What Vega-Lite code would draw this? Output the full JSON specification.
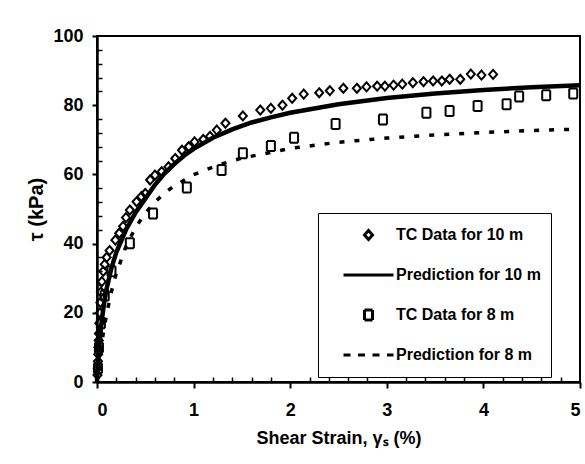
{
  "$schema": "https://vega.github.io/schema/vega-lite/v6.json",
  "width": 483,
  "height": 346,
  "autosize": {"type": "none"},
  "padding": {"left": 97, "top": 36, "right": 5, "bottom": 82},
  "background": "white",
  "config": {
    "view": {"stroke": "black", "strokeWidth": 2},
    "font": "Liberation Sans",
    "axis": {
      "labelFont": "Liberation Sans", "labelFontWeight": "bold", "labelFontSize": 18, "labelColor": "black",
      "titleFont": "Liberation Sans", "titleFontWeight": "bold", "titleColor": "black",
      "domainColor": "black", "domainWidth": 2.5, "tickColor": "black", "tickWidth": 2, "grid": false
    },
    "legend": {
      "orient": "none", "legendX": 221, "legendY": 177,
      "labelFont": "Liberation Sans", "labelFontWeight": "bold", "labelFontSize": 16, "labelColor": "black",
      "strokeColor": "black", "fillColor": "white", "padding": 10,
      "rowPadding": 16, "clipHeight": 24, "symbolOffset": 14, "labelOffset": 1,
      "symbolSize": 2500, "symbolStrokeWidth": 3, "symbolStrokeColor": "black", "symbolFillColor": "transparent",
      "symbolOpacity": 1, "title": null
    }
  },
  "data": {"values": [
    {"series": "TC Data for 10 m", "strain": 0.005, "stress": 2},
    {"series": "TC Data for 10 m", "strain": 0.008, "stress": 4},
    {"series": "TC Data for 10 m", "strain": 0.01, "stress": 6},
    {"series": "TC Data for 10 m", "strain": 0.012, "stress": 8},
    {"series": "TC Data for 10 m", "strain": 0.015, "stress": 10},
    {"series": "TC Data for 10 m", "strain": 0.018, "stress": 12},
    {"series": "TC Data for 10 m", "strain": 0.02, "stress": 14},
    {"series": "TC Data for 10 m", "strain": 0.025, "stress": 17},
    {"series": "TC Data for 10 m", "strain": 0.03, "stress": 20},
    {"series": "TC Data for 10 m", "strain": 0.035, "stress": 23},
    {"series": "TC Data for 10 m", "strain": 0.04, "stress": 26},
    {"series": "TC Data for 10 m", "strain": 0.05, "stress": 29},
    {"series": "TC Data for 10 m", "strain": 0.065, "stress": 32},
    {"series": "TC Data for 10 m", "strain": 0.08, "stress": 34},
    {"series": "TC Data for 10 m", "strain": 0.1, "stress": 36},
    {"series": "TC Data for 10 m", "strain": 0.13, "stress": 38},
    {"series": "TC Data for 10 m", "strain": 0.19, "stress": 41},
    {"series": "TC Data for 10 m", "strain": 0.23, "stress": 43},
    {"series": "TC Data for 10 m", "strain": 0.27, "stress": 45},
    {"series": "TC Data for 10 m", "strain": 0.3, "stress": 47.5},
    {"series": "TC Data for 10 m", "strain": 0.34, "stress": 49.7},
    {"series": "TC Data for 10 m", "strain": 0.41, "stress": 52.1},
    {"series": "TC Data for 10 m", "strain": 0.46, "stress": 53.6},
    {"series": "TC Data for 10 m", "strain": 0.5, "stress": 54.5},
    {"series": "TC Data for 10 m", "strain": 0.55, "stress": 58.4},
    {"series": "TC Data for 10 m", "strain": 0.6, "stress": 59.8},
    {"series": "TC Data for 10 m", "strain": 0.67, "stress": 60.8},
    {"series": "TC Data for 10 m", "strain": 0.74, "stress": 62.2},
    {"series": "TC Data for 10 m", "strain": 0.81, "stress": 64.6},
    {"series": "TC Data for 10 m", "strain": 0.88, "stress": 67},
    {"series": "TC Data for 10 m", "strain": 0.95, "stress": 68},
    {"series": "TC Data for 10 m", "strain": 1.01, "stress": 69.4},
    {"series": "TC Data for 10 m", "strain": 1.1, "stress": 70.1},
    {"series": "TC Data for 10 m", "strain": 1.17, "stress": 71},
    {"series": "TC Data for 10 m", "strain": 1.24, "stress": 72.8},
    {"series": "TC Data for 10 m", "strain": 1.33, "stress": 74.8},
    {"series": "TC Data for 10 m", "strain": 1.51, "stress": 76.9},
    {"series": "TC Data for 10 m", "strain": 1.69, "stress": 78.6},
    {"series": "TC Data for 10 m", "strain": 1.8, "stress": 79.1},
    {"series": "TC Data for 10 m", "strain": 1.92, "stress": 80},
    {"series": "TC Data for 10 m", "strain": 2.02, "stress": 82},
    {"series": "TC Data for 10 m", "strain": 2.14, "stress": 83.2},
    {"series": "TC Data for 10 m", "strain": 2.3, "stress": 83.6},
    {"series": "TC Data for 10 m", "strain": 2.41, "stress": 84.2},
    {"series": "TC Data for 10 m", "strain": 2.55, "stress": 84.9},
    {"series": "TC Data for 10 m", "strain": 2.69, "stress": 84.9},
    {"series": "TC Data for 10 m", "strain": 2.79, "stress": 85.3},
    {"series": "TC Data for 10 m", "strain": 2.9, "stress": 85.5},
    {"series": "TC Data for 10 m", "strain": 2.98, "stress": 85.5},
    {"series": "TC Data for 10 m", "strain": 3.07, "stress": 85.8},
    {"series": "TC Data for 10 m", "strain": 3.16, "stress": 86.1},
    {"series": "TC Data for 10 m", "strain": 3.27, "stress": 86.5},
    {"series": "TC Data for 10 m", "strain": 3.38, "stress": 86.8},
    {"series": "TC Data for 10 m", "strain": 3.48, "stress": 87},
    {"series": "TC Data for 10 m", "strain": 3.57, "stress": 87},
    {"series": "TC Data for 10 m", "strain": 3.65, "stress": 87.5},
    {"series": "TC Data for 10 m", "strain": 3.76, "stress": 87.5},
    {"series": "TC Data for 10 m", "strain": 3.87, "stress": 89},
    {"series": "TC Data for 10 m", "strain": 3.98, "stress": 88.7},
    {"series": "TC Data for 10 m", "strain": 4.1, "stress": 88.9},
    {"series": "TC Data for 8 m", "strain": 0.01, "stress": 4},
    {"series": "TC Data for 8 m", "strain": 0.02, "stress": 10},
    {"series": "TC Data for 8 m", "strain": 0.04, "stress": 17},
    {"series": "TC Data for 8 m", "strain": 0.08, "stress": 25},
    {"series": "TC Data for 8 m", "strain": 0.15, "stress": 32},
    {"series": "TC Data for 8 m", "strain": 0.34, "stress": 40.1},
    {"series": "TC Data for 8 m", "strain": 0.58, "stress": 48.7},
    {"series": "TC Data for 8 m", "strain": 0.93, "stress": 56.2},
    {"series": "TC Data for 8 m", "strain": 1.29, "stress": 61.3},
    {"series": "TC Data for 8 m", "strain": 1.51, "stress": 66.1},
    {"series": "TC Data for 8 m", "strain": 1.8, "stress": 68.2},
    {"series": "TC Data for 8 m", "strain": 2.04, "stress": 70.6},
    {"series": "TC Data for 8 m", "strain": 2.47, "stress": 74.6},
    {"series": "TC Data for 8 m", "strain": 2.96, "stress": 75.9},
    {"series": "TC Data for 8 m", "strain": 3.41, "stress": 77.8},
    {"series": "TC Data for 8 m", "strain": 3.65, "stress": 78.3},
    {"series": "TC Data for 8 m", "strain": 3.94, "stress": 79.8},
    {"series": "TC Data for 8 m", "strain": 4.24, "stress": 80.3},
    {"series": "TC Data for 8 m", "strain": 4.37, "stress": 82.5},
    {"series": "TC Data for 8 m", "strain": 4.65, "stress": 82.9},
    {"series": "TC Data for 8 m", "strain": 4.93, "stress": 83.4},
    {"series": "Prediction for 10 m", "strain": 0, "stress": 0},
    {"series": "Prediction for 10 m", "strain": 0.005, "stress": 3},
    {"series": "Prediction for 10 m", "strain": 0.01, "stress": 5.5},
    {"series": "Prediction for 10 m", "strain": 0.02, "stress": 9.5},
    {"series": "Prediction for 10 m", "strain": 0.04, "stress": 15.5},
    {"series": "Prediction for 10 m", "strain": 0.06, "stress": 20},
    {"series": "Prediction for 10 m", "strain": 0.08, "stress": 24},
    {"series": "Prediction for 10 m", "strain": 0.1, "stress": 27},
    {"series": "Prediction for 10 m", "strain": 0.15, "stress": 33},
    {"series": "Prediction for 10 m", "strain": 0.2, "stress": 37.5},
    {"series": "Prediction for 10 m", "strain": 0.3, "stress": 44},
    {"series": "Prediction for 10 m", "strain": 0.4, "stress": 49},
    {"series": "Prediction for 10 m", "strain": 0.5, "stress": 53},
    {"series": "Prediction for 10 m", "strain": 0.6, "stress": 57},
    {"series": "Prediction for 10 m", "strain": 0.7, "stress": 60.3},
    {"series": "Prediction for 10 m", "strain": 0.8, "stress": 63},
    {"series": "Prediction for 10 m", "strain": 0.9, "stress": 65.4},
    {"series": "Prediction for 10 m", "strain": 1.0, "stress": 67.4},
    {"series": "Prediction for 10 m", "strain": 1.2, "stress": 70.6},
    {"series": "Prediction for 10 m", "strain": 1.4, "stress": 73},
    {"series": "Prediction for 10 m", "strain": 1.6, "stress": 75},
    {"series": "Prediction for 10 m", "strain": 1.8, "stress": 76.5},
    {"series": "Prediction for 10 m", "strain": 2.0, "stress": 77.8},
    {"series": "Prediction for 10 m", "strain": 2.5, "stress": 80.3},
    {"series": "Prediction for 10 m", "strain": 3.0, "stress": 82.1},
    {"series": "Prediction for 10 m", "strain": 3.5, "stress": 83.4},
    {"series": "Prediction for 10 m", "strain": 4.0, "stress": 84.4},
    {"series": "Prediction for 10 m", "strain": 4.5, "stress": 85.2},
    {"series": "Prediction for 10 m", "strain": 5.0, "stress": 85.8},
    {"series": "Prediction for 8 m", "strain": 0, "stress": 0},
    {"series": "Prediction for 8 m", "strain": 0.01, "stress": 2.6},
    {"series": "Prediction for 8 m", "strain": 0.02, "stress": 5},
    {"series": "Prediction for 8 m", "strain": 0.04, "stress": 9.3},
    {"series": "Prediction for 8 m", "strain": 0.06, "stress": 13.2},
    {"series": "Prediction for 8 m", "strain": 0.08, "stress": 16.6},
    {"series": "Prediction for 8 m", "strain": 0.1, "stress": 19.7},
    {"series": "Prediction for 8 m", "strain": 0.15, "stress": 26.2},
    {"series": "Prediction for 8 m", "strain": 0.2, "stress": 31.4},
    {"series": "Prediction for 8 m", "strain": 0.3, "stress": 39.2},
    {"series": "Prediction for 8 m", "strain": 0.4, "stress": 44.7},
    {"series": "Prediction for 8 m", "strain": 0.5, "stress": 48.8},
    {"series": "Prediction for 8 m", "strain": 0.6, "stress": 52},
    {"series": "Prediction for 8 m", "strain": 0.7, "stress": 54.6},
    {"series": "Prediction for 8 m", "strain": 0.8, "stress": 56.7},
    {"series": "Prediction for 8 m", "strain": 1.0, "stress": 59.9},
    {"series": "Prediction for 8 m", "strain": 1.25, "stress": 62.7},
    {"series": "Prediction for 8 m", "strain": 1.5, "stress": 64.7},
    {"series": "Prediction for 8 m", "strain": 2.0, "stress": 67.5},
    {"series": "Prediction for 8 m", "strain": 2.5, "stress": 69.3},
    {"series": "Prediction for 8 m", "strain": 3.0, "stress": 70.5},
    {"series": "Prediction for 8 m", "strain": 3.5, "stress": 71.4},
    {"series": "Prediction for 8 m", "strain": 4.0, "stress": 72.1},
    {"series": "Prediction for 8 m", "strain": 4.5, "stress": 72.7},
    {"series": "Prediction for 8 m", "strain": 5.0, "stress": 73.1}
  ]},
  "resolve": {"axis": {"x": "independent", "y": "independent"}},
  "layer": [
    {
      "transform": [{"filter": "indexof(datum.series, 'TC Data') === 0"}],
      "mark": {"type": "point", "filled": false, "size": 2500, "opacity": 1, "strokeWidth": 2, "color": "black"},
      "encoding": {
        "x": {"field": "strain", "type": "quantitative",
          "scale": {"domain": [0, 5], "nice": false, "zero": true},
          "axis": {"values": [0, 1, 2, 3, 4, 5], "format": "d", "tickSize": 6, "labelPadding": 13,
            "title": "Shear Strain, γₛ (%)", "titleFontSize": 18, "titlePadding": 10, "orient": "bottom"}},
        "y": {"field": "stress", "type": "quantitative",
          "scale": {"domain": [0, 100], "nice": false},
          "axis": {"values": [0, 20, 40, 60, 80, 100], "tickSize": 5, "labelPadding": 9,
            "title": "τ (kPa)", "titleFontSize": 20, "titlePadding": 6, "orient": "left"}},
        "shape": {"field": "series", "type": "nominal",
          "scale": {"domain": ["TC Data for 10 m", "Prediction for 10 m", "TC Data for 8 m", "Prediction for 8 m"],
            "range": ["M0,-0.18L0.16,0L0,0.18L-0.16,0Z", "stroke", "M-0.16,-0.2L0.16,-0.2L0.16,0.2L-0.16,0.2Z", "stroke"]}},
        "strokeDash": {"field": "series", "type": "nominal",
          "scale": {"domain": ["TC Data for 10 m", "Prediction for 10 m", "TC Data for 8 m", "Prediction for 8 m"],
            "range": [[1, 0], [1, 0], [1, 0], [7, 7.5]]}}
      }
    },
    {
      "transform": [{"filter": "datum.series === 'Prediction for 10 m'"}],
      "mark": {"type": "line", "strokeWidth": 4.5, "color": "black"},
      "encoding": {
        "x": {"field": "strain", "type": "quantitative",
          "axis": {"values": [0.2, 0.4, 0.6, 0.8, 1.2, 1.4, 1.6, 1.8, 2.2, 2.4, 2.6, 2.8, 3.2, 3.4, 3.6, 3.8, 4.2, 4.4, 4.6, 4.8],
            "tickSize": -5, "labels": false, "domain": false, "title": null, "orient": "bottom", "tickWidth": 1.5}},
        "y": {"field": "stress", "type": "quantitative",
          "axis": {"values": [4, 8, 12, 16, 24, 28, 32, 36, 44, 48, 52, 56, 64, 68, 72, 76, 84, 88, 92, 96],
            "tickSize": -5, "labels": false, "domain": false, "title": null, "orient": "left", "tickWidth": 1.5}}
      }
    },
    {
      "transform": [{"filter": "datum.series === 'Prediction for 8 m'"}],
      "mark": {"type": "line", "strokeWidth": 3.5, "strokeDash": [5, 10], "color": "black"},
      "encoding": {
        "x": {"field": "strain", "type": "quantitative", "axis": null},
        "y": {"field": "stress", "type": "quantitative", "axis": null}
      }
    }
  ]
}
